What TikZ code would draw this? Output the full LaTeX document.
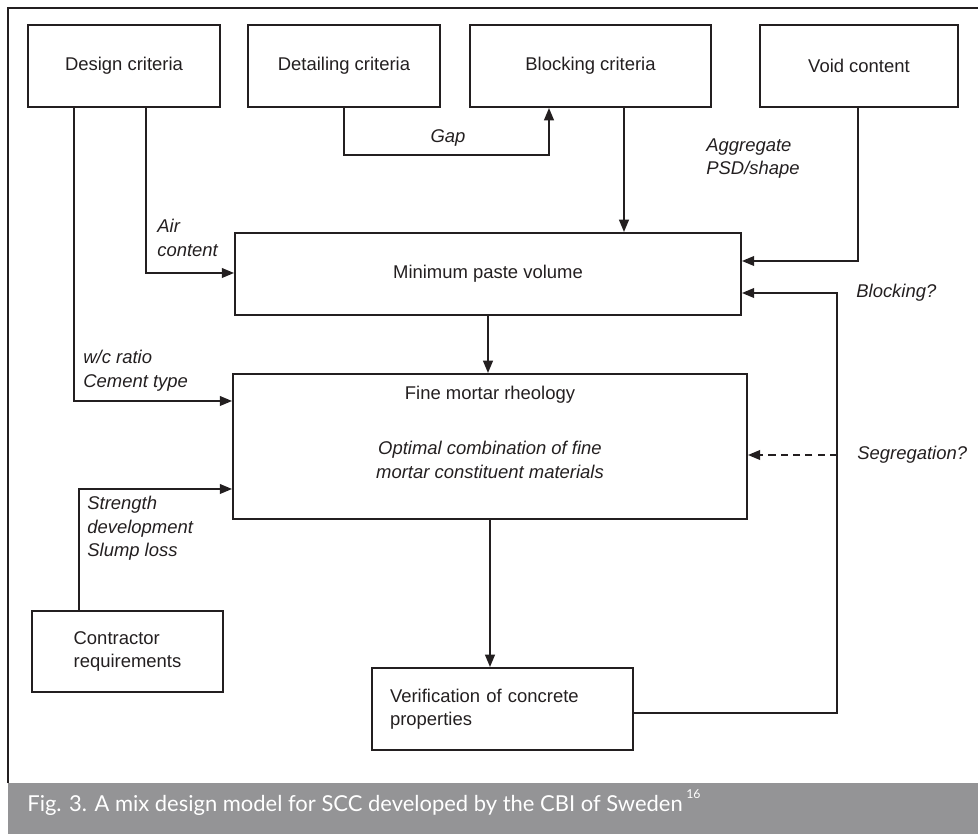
\documentclass[tikz,border=0pt]{standalone}
\usepackage{fontspec}
\setmainfont{Liberation Sans}
\newfontfamily\CapFont{Lato}
\usepackage{tikz}
\usetikzlibrary{arrows.meta}
\usepackage{xcolor}
\definecolor{ColInk}{RGB}{35,31,32}
\definecolor{ColBar}{RGB}{148,148,150}
\tikzstyle{BoxNode}=[draw=ColInk,line width=1.1pt,inner sep=0pt,text=ColInk,
font=\fontsize{10.5}{13.3}\selectfont,minimum height=1.64cm]
\tikzstyle{NoteNode}=[inner sep=0pt,text=ColInk,font=\fontsize{10.5}{13.3}\selectfont\itshape,align=left]
\tikzstyle{EdgeFlow}=[draw=ColInk,line width=1.1pt,-{Triangle[length=7pt,width=5.5pt]}]

\begin{document}
\begin{tikzpicture}[x=0.02cm,y=-0.02cm]
        \useasboundingbox (0,0) rectangle (978,834);
        % frame and caption bar
        \fill[ColBar] (8,783) rectangle (978,834);
        \draw[ColInk,line width=1.5pt] (8,783) -- (8,8) -- (978,8);
        \node[anchor=base west,inner sep=0pt,text=white,font=\CapFont\fontsize{12.5}{14}\selectfont](caption)at(27,811){Fig. 3. A mix design model for SCC developed by the CBI of Sweden\,\raisebox{1.1ex}{\fontsize{7}{8}\selectfont 16}};
        % boxes
        \node[BoxNode,minimum width=3.84cm](design)at(124,66){Design criteria};
        \node[BoxNode,minimum width=3.84cm](detail)at(344,66){Detailing criteria};
        \node[BoxNode,minimum width=4.82cm](block)at(590.5,66){Blocking criteria};
        \node[BoxNode,minimum width=3.96cm](void)at(859,66){Void content};
        \node[BoxNode,minimum width=10.12cm](paste)at(488,274){Minimum paste volume};
        \node[BoxNode,minimum width=10.28cm,minimum height=2.9cm](mortar)at(490,446.5){};
        \node[anchor=base,inner sep=0pt,text=ColInk,font=\fontsize{10.5}{13.3}\selectfont](mortartitle)at(490,400){Fine mortar rheology};
        \node[NoteNode,anchor=north,align=center](mortarnote)at(490,441){Optimal combination of fine\\mortar constituent materials};
        \node[BoxNode,align=left,minimum width=3.82cm,minimum height=1.62cm](contractor)at(127.5,651.5){Contractor\\requirements};
        \node[BoxNode,align=left,text width=4.5cm,inner xsep=0.36cm](verif)at(502.5,709){Verification of concrete\\properties};
        % bend points
        \coordinate(gapleft)at(344,155);
        \coordinate(gapright)at(549,155);
        \coordinate(blockdrop)at(624,107);
        \coordinate(voidbend)at(858,261);
        \coordinate(airbend)at(146,273);
        \coordinate(wcbend)at(74,401);
        \coordinate(conbend)at(79,489);
        \coordinate(retlow)at(837,713);
        \coordinate(rethigh)at(837,293);
        \coordinate(segstart)at(837,455);
        % connectors
        \draw[EdgeFlow](detail.south)--(gapleft)--(gapright)--(block.south -| gapright);
        \draw[EdgeFlow](block.south -| blockdrop)--(paste.north -| blockdrop);
        \draw[EdgeFlow](void.south -| voidbend)--(voidbend)--(paste.east |- voidbend);
        \draw[EdgeFlow](design.south -| airbend)--(airbend)--(paste.west |- airbend);
        \draw[EdgeFlow](design.south -| wcbend)--(wcbend)--(mortar.west |- wcbend);
        \draw[EdgeFlow](contractor.north -| conbend)--(conbend)--(mortar.west |- conbend);
        \draw[EdgeFlow](paste.south)--(mortar.north -| paste.south);
        \draw[EdgeFlow](mortar.south)--(verif.north -| mortar.south);
        \draw[EdgeFlow](verif.east |- retlow)--(retlow)--(rethigh)--(paste.east |- rethigh);
        \draw[EdgeFlow,dash pattern=on 4pt off 3pt](segstart)--(mortar.east |- segstart);
        % labels
        \node[NoteNode,anchor=base](gaplabel)at(448,143){Gap};
        \node[NoteNode,anchor=north west](agglabel)at(706,138){Aggregate\\PSD/shape};
        \node[NoteNode,anchor=north west](airlabel)at(157,219){Air\\content};
        \node[NoteNode,anchor=north west](wclabel)at(83,350){w/c ratio\\Cement type};
        \node[NoteNode,anchor=north west](conlabel)at(87,496){Strength\\development\\Slump loss};
        \node[NoteNode,anchor=base west](blocklabel)at(856,298){Blocking?};
        \node[NoteNode,anchor=base west](seglabel)at(857,460){Segregation?};
    \end{tikzpicture}
\end{document}
